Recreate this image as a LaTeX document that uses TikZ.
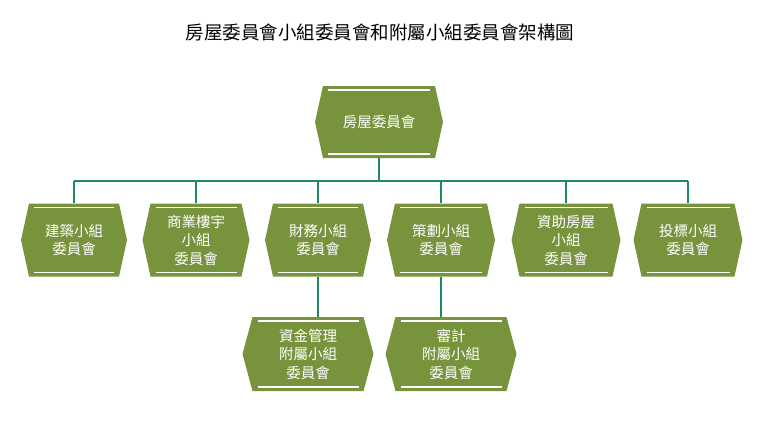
\documentclass[tikz,border=0pt]{standalone}
\usepackage{fontspec}
\newfontfamily\cjk{Noto Sans CJK TC}
\definecolor{boxg}{HTML}{77933C}
\definecolor{lineg}{HTML}{1F8A5C}
\newcommand\hexbox[7]{% name, cx, cy, w, h, depth, text
  \fill[boxg] (#2-#4/2+#6,#3-#5/2) -- (#2+#4/2-#6,#3-#5/2) -- (#2+#4/2,#3) -- (#2+#4/2-#6,#3+#5/2) -- (#2-#4/2+#6,#3+#5/2) -- (#2-#4/2,#3) -- cycle;
  \draw[white,line width=1.3pt] (#2-#4/2+#6+5,#3-#5/2+4) -- (#2+#4/2-#6-5,#3-#5/2+4);
  \draw[white,line width=1.3pt] (#2-#4/2+#6+5,#3+#5/2-4) -- (#2+#4/2-#6-5,#3+#5/2-4);
  \node[txt,minimum width=#4,minimum height=#5] (#1) at (#2,#3) {#7};}
\begin{document}
\begin{tikzpicture}[x=1pt,y=-1pt,txt/.style={inner sep=0pt,align=center,text=white,font=\cjk\fontsize{14.5}{18.5}\selectfont},
  conn/.style={lineg,line width=1.1pt}]
\useasboundingbox (0,0) rectangle (760,423);
\node[font=\cjk\fontsize{18.5}{22}\selectfont] (title) at (380,32) {房屋委員會小組委員會和附屬小組委員會架構圖};
\coordinate (bus1) at (379,181);
\coordinate (busL) at (74,181);
\coordinate (busR) at (688,181);
\draw[conn] (busL) -- (busR);
\hexbox{top}{379}{122}{128}{72}{8}{房屋委員會}
\hexbox{a}{74}{240}{106}{73}{8}{建築小組\\委員會}
\hexbox{b}{196}{240}{107}{73}{8}{商業樓宇\\小組\\委員會}
\hexbox{c}{318}{240}{106}{73}{8}{財務小組\\委員會}
\hexbox{d}{441}{240}{108}{73}{8}{策劃小組\\委員會}
\hexbox{e}{566}{240}{109}{73}{8}{資助房屋\\小組\\委員會}
\hexbox{f}{688}{240}{109}{73}{8}{投標小組\\委員會}
\hexbox{g}{308}{354}{131}{74}{10}{資金管理\\附屬小組\\委員會}
\hexbox{h}{451}{354}{131}{74}{10}{審計\\附屬小組\\委員會}
\draw[conn] (top.south) -- (bus1);
\foreach \n in {a,b,c,d,e,f} \draw[conn] (\n.north|-bus1) -- (\n.north);
\draw[conn] (c.south) -- (c.south|-g.north);
\draw[conn] (d.south) -- (d.south|-h.north);
\end{tikzpicture}
\end{document}
